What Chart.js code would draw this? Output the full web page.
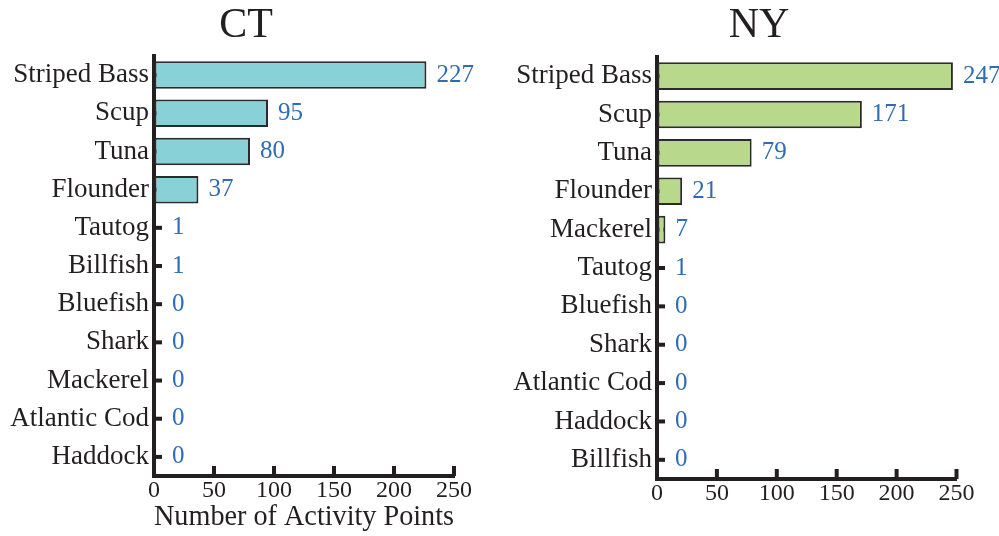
<!DOCTYPE html>
<html>
<head>
<meta charset="utf-8">
<title>Activity Points by Species</title>
<script src="https://cdn.jsdelivr.net/npm/chart.js"></script>
<style>
    body { margin: 0; background: #ffffff; }
    .panel { position: absolute; top: 0; }
    #ctPanel { left: 0; }
    #nyPanel { left: 500px; }
</style>
</head>
<body>
<div class="panel" id="ctPanel"><canvas id="ctChart" width="500" height="536"></canvas></div>
<div class="panel" id="nyPanel"><canvas id="nyChart" width="499" height="536"></canvas></div>

<script>
// Species order differs per state (sorted by count)
const ctSpecies = ['Striped Bass', 'Scup', 'Tuna', 'Flounder', 'Tautog', 'Billfish', 'Bluefish', 'Shark', 'Mackerel', 'Atlantic Cod', 'Haddock'];
const ctPoints = [227, 95, 80, 37, 1, 1, 0, 0, 0, 0, 0];

const nySpecies = ['Striped Bass', 'Scup', 'Tuna', 'Flounder', 'Mackerel', 'Tautog', 'Bluefish', 'Shark', 'Atlantic Cod', 'Haddock', 'Billfish'];
const nyPoints = [247, 171, 79, 21, 7, 1, 0, 0, 0, 0, 0];

const xTickValues = [0, 50, 100, 150, 200, 250];

const INK = '#231f20';
const LABEL_BLUE = '#2f6db3';

Chart.defaults.font.family = "'Liberation Serif', 'Times New Roman', serif";
Chart.defaults.color = INK;

// Panel heading (state name), placed over the label column + plot
const panelTitle = {
    id: 'panelTitle',
    afterDraw(chart, args, opts) {
        const ctx = chart.ctx;
        ctx.save();
        ctx.font = "42px 'Liberation Serif'";
        ctx.fillStyle = INK;
        ctx.textAlign = 'center';
        ctx.textBaseline = 'middle';
        ctx.fillText(opts.text, opts.x, opts.y);
        ctx.restore();
    }
};

// Short tick marks pointing into the plot, drawn under the bars
const innerTicks = {
    id: 'innerTicks',
    beforeDatasetsDraw(chart) {
        const { ctx, chartArea, scales } = chart;
        ctx.save();
        ctx.fillStyle = INK;
        scales.x.ticks.forEach((t, i) => {
            const px = scales.x.getPixelForTick(i);
            ctx.fillRect(px - 2, chartArea.bottom - 10, 4, 10);
        });
        scales.y.ticks.forEach((t, i) => {
            const py = scales.y.getPixelForTick(i);
            ctx.fillRect(chartArea.left, py - 2, 8, 4);
        });
        ctx.restore();
    }
};

// Count printed just past the end of each bar
const barValues = {
    id: 'barValues',
    afterDatasetsDraw(chart) {
        const { ctx, chartArea } = chart;
        const values = chart.data.datasets[0].data;
        ctx.save();
        ctx.font = "25px 'Liberation Serif'";
        ctx.fillStyle = LABEL_BLUE;
        ctx.textAlign = 'left';
        ctx.textBaseline = 'middle';
        chart.getDatasetMeta(0).data.forEach((bar, i) => {
            const x = Math.max(bar.x, chartArea.left + 8) + 10;
            ctx.fillText(String(values[i]), x, bar.y);
        });
        ctx.restore();
    }
};

function buildConfig(opts) {
    return {
        type: 'bar',
        data: {
            labels: opts.labels,
            datasets: [{
                data: opts.values,
                backgroundColor: opts.fill,
                borderColor: '#2b2b2b',
                borderWidth: 2,
                borderSkipped: false,
                barPercentage: 0.72,
                categoryPercentage: 1
            }]
        },
        options: {
            indexAxis: 'y',
            responsive: false,
            animation: false,
            devicePixelRatio: 1,
            layout: {
                padding: { left: 0, right: opts.padRight, top: opts.padTop, bottom: 0 }
            },
            plugins: {
                legend: { display: false },
                tooltip: { enabled: false },
                title: { display: false },
                panelTitle: { text: opts.title, x: opts.titleX, y: 26 }
            },
            scales: {
                x: {
                    min: 0,
                    max: 250,
                    afterBuildTicks: scale => {
                        scale.ticks = xTickValues.map(v => ({ value: v }));
                    },
                    afterFit: scale => { scale.height = opts.xHeight; },
                    grid: { display: true, drawOnChartArea: false, drawTicks: false },
                    border: { display: true, color: INK, width: 4 },
                    ticks: {
                        padding: 0,
                        maxRotation: 0,
                        color: INK,
                        font: { size: 24 }
                    },
                    title: {
                        display: !!opts.xTitle,
                        text: opts.xTitle || '',
                        color: INK,
                        font: { size: 30 },
                        padding: { top: 0, bottom: 1 }
                    }
                },
                y: {
                    afterFit: scale => { scale.width = opts.yWidth; },
                    grid: { display: true, drawOnChartArea: false, drawTicks: false },
                    border: { display: true, color: INK, width: 4 },
                    ticks: {
                        padding: 5,
                        autoSkip: false,
                        color: INK,
                        font: { size: 27 }
                    }
                }
            }
        },
        plugins: [innerTicks, barValues, panelTitle]
    };
}

document.addEventListener('DOMContentLoaded', function() {
    new Chart(document.getElementById('ctChart'), buildConfig({
        title: 'CT',
        titleX: 246,
        labels: ctSpecies,
        values: ctPoints,
        fill: '#87d1d7',
        padTop: 56,
        padRight: 46,
        yWidth: 154,
        xHeight: 60,
        xTitle: 'Number of Activity Points'
    }));

    new Chart(document.getElementById('nyChart'), buildConfig({
        title: 'NY',
        titleX: 259,
        labels: nySpecies,
        values: nyPoints,
        fill: '#b8d98c',
        padTop: 57,
        padRight: 42.5,
        yWidth: 157,
        xHeight: 57
    }));
});
</script>
</body>
</html>
